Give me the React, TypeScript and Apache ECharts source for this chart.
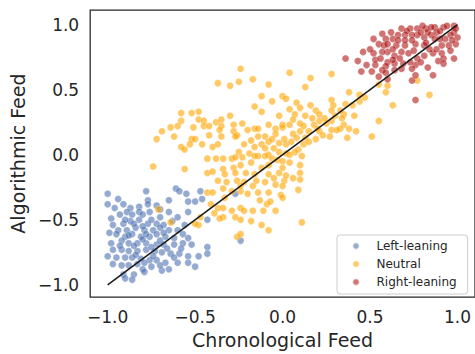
import React, { useEffect, useRef } from "react";
import * as echarts from "echarts";

const seriesNames = ["Left-leaning", "Neutral", "Right-leaning"];
const seriesColors = ["#4c72b0", "#ffa500", "#a80000"];
const tickValues = [-1, -0.5, 0, 0.5, 1];
const diagonal = [[-1, -1], [1, 1]];

const leftLeaning = [
  [-1.0, -0.3], [-0.94, -0.34], [-1.0, -0.38], [-0.96, -0.41], [-0.91, -0.38], [-0.87, -0.41], [-0.82, -0.4], [-0.78, -0.28], [-0.77, -0.35], [-0.77, -0.38], [-0.72, -0.39], [-0.65, -0.35], [-0.61, -0.26], [-0.59, -0.28], [-0.55, -0.3], [-0.54, -0.36], [-0.5, -0.36], [-0.46, -0.34], [-0.47, -0.28], [-0.27, -0.3],
  [-0.98, -0.49], [-0.93, -0.46], [-0.89, -0.44], [-0.86, -0.46], [-0.82, -0.44], [-0.76, -0.44], [-0.7, -0.48], [-0.65, -0.44], [-0.54, -0.44],
  [-0.97, -0.54], [-0.91, -0.53], [-0.87, -0.51], [-0.82, -0.5], [-0.77, -0.53], [-0.72, -0.53], [-0.68, -0.54], [-0.63, -0.51], [-0.56, -0.54],
  [-0.6, -0.58], [-0.65, -0.58], [-0.7, -0.56], [-0.74, -0.58], [-0.79, -0.58], [-0.84, -0.56], [-0.89, -0.58], [-0.94, -0.58],
  [-0.99, -0.6], [-0.95, -0.61], [-0.9, -0.63], [-0.86, -0.61], [-0.81, -0.63], [-0.76, -0.63], [-0.72, -0.61], [-0.67, -0.63], [-0.62, -0.64], [-0.57, -0.61], [-0.54, -0.64], [-0.43, -0.5], [-0.24, -0.66],
  [-0.98, -0.68], [-0.92, -0.66], [-0.88, -0.68], [-0.83, -0.68], [-0.78, -0.68], [-0.72, -0.69], [-0.68, -0.69], [-0.62, -0.69], [-0.57, -0.68], [-0.52, -0.69], [-0.43, -0.71],
  [-0.43, -0.76], [-0.48, -0.78], [-0.54, -0.78], [-0.59, -0.76], [-0.64, -0.76], [-0.69, -0.75], [-0.73, -0.74], [-0.78, -0.73], [-0.83, -0.74], [-0.88, -0.74], [-0.92, -0.73], [-0.97, -0.73],
  [-1.0, -0.78], [-0.95, -0.79], [-0.9, -0.79], [-0.86, -0.79], [-0.81, -0.8], [-0.76, -0.81], [-0.72, -0.81], [-0.67, -0.83], [-0.6, -0.83], [-0.54, -0.83],
  [-0.97, -0.84], [-0.92, -0.85], [-0.88, -0.85], [-0.83, -0.84], [-0.8, -0.88], [-0.75, -0.86], [-0.69, -0.89], [-0.65, -0.88], [-0.5, -0.86],
  [-0.91, -0.92], [-0.85, -0.92], [-0.79, -0.9], [-0.9, -0.95], [-0.86, -0.96],
  [-0.85, -0.53], [-0.8, -0.55], [-0.75, -0.5], [-0.8, -0.65], [-0.85, -0.7], [-0.75, -0.71], [-0.7, -0.66], [-0.66, -0.72], [-0.84, -0.77], [-0.79, -0.83], [-0.88, -0.62], [-0.93, -0.7], [-0.74, -0.78], [-0.7, -0.85], [-0.62, -0.79], [-0.58, -0.72], [-0.9, -0.5], [-0.8, -0.46], [-0.7, -0.42], [-0.6, -0.48], [-0.68, -0.6], [-0.78, -0.61],
];

const neutral = [
  [-0.24, 0.66], [-0.37, 0.55], [-0.3, 0.53], [-0.25, 0.56], [-0.17, 0.58], [-0.08, 0.54], [-0.12, 0.45], [-0.06, 0.41], [0.0, 0.45], [-0.16, 0.37], [-0.12, 0.33],
  [-0.58, 0.32], [-0.52, 0.32], [-0.48, 0.33], [-0.58, 0.26], [-0.48, 0.27], [-0.45, 0.26], [-0.38, 0.25], [-0.35, 0.27], [-0.3, 0.3], [-0.23, 0.24], [-0.28, 0.23],
  [-0.64, 0.21], [-0.6, 0.22], [-0.51, 0.21], [-0.45, 0.22], [-0.42, 0.22], [-0.35, 0.22], [-0.69, 0.18], [-0.72, 0.12], [-0.62, 0.14], [-0.52, 0.12], [-0.5, 0.12], [-0.42, 0.15], [-0.36, 0.19], [-0.35, 0.14], [-0.28, 0.18], [-0.26, 0.15], [-0.2, 0.19], [-0.16, 0.2], [-0.14, 0.2], [-0.08, 0.23], [-0.04, 0.2], [0.0, 0.23],
  [-0.58, 0.06], [-0.56, 0.04], [-0.53, 0.08], [-0.46, 0.08], [-0.4, 0.06], [-0.37, 0.08], [-0.27, 0.14], [-0.22, 0.08], [-0.18, 0.11], [-0.14, 0.14], [-0.1, 0.14], [-0.08, 0.1], [-0.12, 0.08], [-0.16, 0.06], [-0.04, 0.16], [-0.02, 0.09], [0.02, 0.08],
  [-0.25, 0.02], [-0.19, 0.01], [-0.23, -0.02], [-0.43, -0.03], [-0.38, -0.03], [-0.34, -0.03], [-0.29, -0.03], [-0.14, -0.01], [-0.08, 0.0], [-0.06, -0.03],
  [0.04, 0.63], [0.16, 0.59], [0.28, 0.62], [0.13, 0.52], [0.02, 0.43], [0.08, 0.4], [0.38, 0.48], [0.44, 0.46], [0.47, 0.44], [0.28, 0.42], [0.36, 0.39], [0.44, 0.41], [0.4, 0.38], [0.29, 0.38], [0.16, 0.38], [0.1, 0.36], [0.04, 0.35], [0.19, 0.34], [0.28, 0.34], [0.33, 0.34], [0.07, 0.31], [0.21, 0.31], [0.13, 0.3], [0.35, 0.31], [0.41, 0.3], [0.34, 0.28], [0.21, 0.26], [0.28, 0.26], [0.25, 0.24], [0.18, 0.23], [0.1, 0.24], [0.04, 0.23], [0.0, 0.21], [0.35, 0.23], [0.33, 0.2], [0.38, 0.2], [0.42, 0.18], [0.28, 0.19], [0.21, 0.18], [0.15, 0.18], [0.1, 0.18], [0.06, 0.16], [0.23, 0.15], [0.27, 0.14], [0.19, 0.12], [0.13, 0.13], [0.08, 0.13], [0.37, 0.13], [0.51, 0.14], [0.55, 0.26], [0.63, 0.38], [0.59, 0.48], [0.55, 0.54], [0.6, 0.53], [0.77, 0.57], [0.84, 0.46], [0.09, 0.04], [0.11, -0.01], [0.07, 0.02], [0.02, 0.01], [0.31, 0.19],
  [-0.74, -0.09], [-0.56, -0.11], [-0.27, -0.02], [-0.16, -0.01], [-0.1, -0.01], [-0.43, -0.14], [-0.4, -0.13], [-0.34, -0.11], [-0.28, -0.1], [-0.24, -0.08], [-0.18, -0.06], [-0.12, -0.1], [-0.08, -0.08], [-0.03, -0.04], [-0.33, -0.15], [-0.27, -0.14], [-0.21, -0.14], [-0.16, -0.15], [-0.08, -0.15], [-0.02, -0.14], [-0.37, -0.2], [-0.32, -0.21], [-0.26, -0.2], [-0.22, -0.21], [-0.17, -0.24], [-0.1, -0.21], [-0.04, -0.23], [0.01, -0.2], [-0.43, -0.29], [-0.4, -0.29], [-0.34, -0.26], [-0.29, -0.28], [-0.24, -0.28], [-0.2, -0.3], [-0.14, -0.29], [-0.08, -0.29], [-0.01, -0.31], [-0.33, -0.33], [-0.13, -0.35], [-0.09, -0.38], [-0.07, -0.36], [-0.41, -0.38], [-0.71, -0.42], [-0.37, -0.41], [-0.34, -0.41], [-0.29, -0.43], [-0.24, -0.41], [-0.22, -0.43], [-0.17, -0.43], [-0.11, -0.43], [-0.04, -0.43], [-0.39, -0.45], [-0.34, -0.48], [-0.36, -0.49], [-0.27, -0.48], [-0.24, -0.5], [-0.18, -0.51], [-0.12, -0.54], [-0.08, -0.58], [-0.26, -0.63], [-0.24, -0.61], [-0.64, -0.52], [-0.48, -0.54], [-0.5, -0.53], [-0.47, -0.48], [-0.24, -0.24],
  [0.04, 0.0], [0.0, -0.05], [0.0, -0.1], [0.1, -0.08], [0.1, -0.14], [0.02, -0.16], [0.06, -0.18], [0.1, -0.19], [0.0, -0.24], [0.09, -0.27], [0.0, -0.33], [0.11, -0.52],
  [-0.05, 0.05], [0.01, 0.12], [-0.02, 0.02], [0.05, 0.1], [-0.1, 0.05], [0.12, 0.08], [0.15, 0.1], [0.2, 0.2], [0.24, 0.28], [0.3, 0.3], [0.17, 0.28], [0.12, 0.22], [0.06, 0.27], [-0.02, 0.3], [-0.06, 0.12], [0.04, -0.06], [-0.05, -0.18], [-0.15, -0.2],
];

const rightLeaning = [
  [0.36, 0.74], [0.43, 0.72], [0.45, 0.64], [0.51, 0.64], [0.48, 0.69], [0.53, 0.69], [0.53, 0.73], [0.52, 0.78], [0.46, 0.79], [0.5, 0.81], [0.52, 0.89], [0.57, 0.93], [0.59, 0.89], [0.55, 0.85], [0.58, 0.84], [0.6, 0.85], [0.63, 0.89], [0.62, 0.94],
  [0.68, 0.97], [0.73, 0.97], [0.77, 0.97], [0.82, 0.97], [0.87, 0.98], [0.92, 0.98], [0.94, 0.99], [0.98, 0.99], [0.98, 0.94], [0.99, 0.85], [0.95, 0.84], [0.91, 0.84], [0.93, 0.89], [0.9, 0.89], [0.85, 0.92], [0.81, 0.9], [0.77, 0.92], [0.74, 0.92], [0.7, 0.92], [0.66, 0.92],
  [0.65, 0.84], [0.7, 0.84], [0.76, 0.85], [0.81, 0.84], [0.86, 0.78], [0.91, 0.78], [0.89, 0.72], [0.92, 0.74], [0.98, 0.74], [0.92, 0.7], [0.81, 0.76], [0.77, 0.74], [0.76, 0.69], [0.79, 0.71], [0.72, 0.78], [0.75, 0.8], [0.68, 0.79], [0.64, 0.76], [0.6, 0.79], [0.57, 0.79], [0.56, 0.74],
  [0.6, 0.71], [0.64, 0.7], [0.69, 0.7], [0.73, 0.71], [0.74, 0.66], [0.64, 0.65], [0.59, 0.68], [0.57, 0.65], [0.59, 0.63], [0.55, 0.6], [0.6, 0.58], [0.74, 0.57], [0.76, 0.61], [0.83, 0.67], [0.86, 0.61], [0.76, 0.42],
  [0.63, 0.81], [0.66, 0.88], [0.7, 0.88], [0.74, 0.88], [0.82, 0.86], [0.87, 0.89], [0.96, 0.92], [0.88, 0.94], [0.83, 0.94], [0.79, 0.94], [0.71, 0.95], [0.88, 0.81], [0.84, 0.81], [0.63, 0.73], [0.67, 0.74], [0.68, 0.66],
  [1.0, 0.9], [0.99, 0.97], [0.97, 0.88], [0.96, 0.8], [0.9, 0.95], [0.85, 0.98], [0.8, 0.99],
];

const groups = [leftLeaning, neutral, rightLeaning];
const FONT = "DejaVu Sans";
const TEXT = "#262626";
const fmt = (v: number) => (v < 0 ? "\u2212" : "") + Math.abs(v).toFixed(1);

export default function App() {
  const ref = useRef<HTMLDivElement>(null);
  useEffect(() => {
    if (!ref.current) return;
    const chart = echarts.init(ref.current, undefined, { renderer: "svg" });
    chart.setOption({
      animation: false,
      backgroundColor: "#ffffff",
      grid: {
        left: 88,
        top: 10,
        right: -2.4,
        bottom: 54.7,
        show: true,
        borderColor: "#262626",
        borderWidth: 1.25,
      },
      xAxis: {
        type: "value",
        min: -1.1,
        max: 1.1,
        axisLine: { show: false },
        axisTick: { show: false },
        splitLine: { show: false },
        axisLabel: {
          customValues: tickValues,
          formatter: fmt,
          fontSize: 17,
          color: TEXT,
          fontFamily: FONT,
          margin: 11,
        },
        name: "Chronological Feed",
        nameLocation: "middle",
        nameGap: 31,
        nameTextStyle: { fontSize: 19, color: TEXT, fontFamily: FONT },
      },
      yAxis: {
        type: "value",
        min: -1.094,
        max: 1.112,
        axisLine: { show: false },
        axisTick: { show: false },
        splitLine: { show: false },
        axisLabel: {
          customValues: tickValues,
          formatter: fmt,
          fontSize: 17,
          color: TEXT,
          fontFamily: FONT,
          margin: 11,
        },
        name: "Algorithmic Feed",
        nameLocation: "middle",
        nameGap: 55,
        nameTextStyle: { fontSize: 19, color: TEXT, fontFamily: FONT },
      },
      legend: {
        orient: "vertical",
        left: 337,
        top: 235,
        padding: [4, 11, 5, 14.5],
        itemWidth: 7,
        itemHeight: 7,
        itemGap: 4,
        icon: "circle",
        backgroundColor: "rgba(255,255,255,0.8)",
        borderColor: "#cccccc",
        borderWidth: 1,
        borderRadius: 3,
        textStyle: {
          fontSize: 12,
          color: TEXT,
          fontFamily: FONT,
          lineHeight: 14,
          padding: [0, 0, 0, 12],
        },
        data: seriesNames,
      },
      series: [
        ...groups.map((g, i) => ({
          name: seriesNames[i],
          type: "scatter",
          data: g,
          symbol: "circle",
          symbolSize: 7,
          itemStyle: {
            color: seriesColors[i],
            opacity: i === 2 ? 0.55 : 0.6,
            borderColor: "#ffffff",
            borderWidth: 0.5,
          },
          z: 2,
        })),
        {
          name: "diagonal",
          type: "line",
          data: diagonal,
          symbol: "none",
          silent: true,
          lineStyle: { color: "#1a1a1a", width: 1.5 },
          z: 5,
        },
      ],
    });
    return () => chart.dispose();
  }, []);
  return (
    <div
      ref={ref}
      style={{ position: "absolute", left: 0, top: 0, width: 475, height: 354 }}
    />
  );
}
